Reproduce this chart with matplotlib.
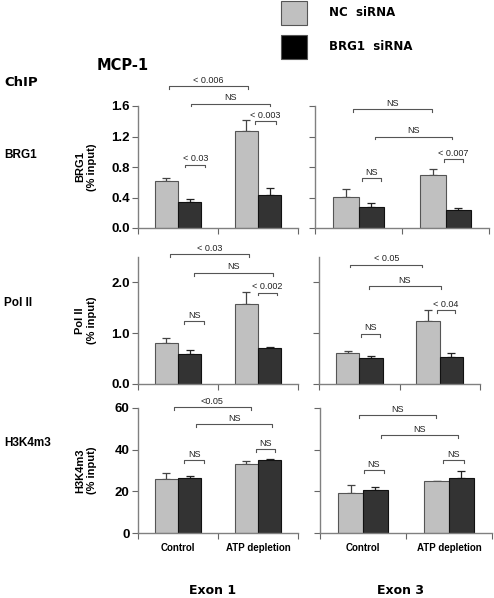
import matplotlib
matplotlib.use('Agg')
import matplotlib.pyplot as plt
from matplotlib.patches import Rectangle

# ---- data ----
groups = ['Control', 'ATP depletion']
series = ['NC  siRNA', 'BRG1  siRNA']

brg1_ex1_nc = [0.62, 1.27]
brg1_ex1_nc_err = [0.03, 0.15]
brg1_ex1_kd = [0.34, 0.43]
brg1_ex1_kd_err = [0.04, 0.10]
brg1_ex3_nc = [0.41, 0.69]
brg1_ex3_nc_err = [0.10, 0.08]
brg1_ex3_kd = [0.27, 0.23]
brg1_ex3_kd_err = [0.06, 0.03]

pol2_ex1_nc = [0.81, 1.58]
pol2_ex1_nc_err = [0.10, 0.23]
pol2_ex1_kd = [0.59, 0.70]
pol2_ex1_kd_err = [0.08, 0.03]
pol2_ex3_nc = [0.61, 1.24]
pol2_ex3_nc_err = [0.03, 0.22]
pol2_ex3_kd = [0.52, 0.54]
pol2_ex3_kd_err = [0.04, 0.07]

h3k4_ex1_nc = [25.9, 33.3]
h3k4_ex1_nc_err = [3.0, 1.1]
h3k4_ex1_kd = [26.2, 35.0]
h3k4_ex1_kd_err = [1.3, 0.7]
h3k4_ex3_nc = [19.4, 24.8]
h3k4_ex3_nc_err = [3.5, 0.3]
h3k4_ex3_kd = [20.5, 26.2]
h3k4_ex3_kd_err = [1.7, 3.5]

# significance brackets: (x from, x to, height, label)
brg1_ex1_sig = [(-0.11, 0.87, 1.86, '< 0.006'), (0.16, 1.15, 1.63, 'NS'),
                (0.96, 1.22, 1.40, '< 0.003'), (0.09, 0.34, 0.83, '< 0.03')]
brg1_ex3_sig = [(-0.06, 0.84, 1.56, 'NS'), (0.19, 1.08, 1.20, 'NS'),
                (0.98, 1.20, 0.905, '< 0.007'), (0.04, 0.26, 0.65, 'NS')]
pol2_ex1_sig = [(-0.10, 0.89, 2.55, '< 0.03'), (0.20, 1.19, 2.19, 'NS'),
                (1.00, 1.24, 1.80, '< 0.002'), (0.07, 0.33, 1.24, 'NS')]
pol2_ex3_sig = [(-0.11, 0.78, 2.35, '< 0.05'), (0.12, 1.01, 1.92, 'NS'),
                (0.96, 1.19, 1.46, '< 0.04'), (0.02, 0.26, 0.99, 'NS')]
h3k4_ex1_sig = [(-0.05, 0.91, 60.6, '<0.05'), (0.22, 1.18, 52.2, 'NS'),
                (0.97, 1.21, 40.3, 'NS'), (0.08, 0.32, 34.9, 'NS')]
h3k4_ex3_sig = [(-0.05, 0.85, 56.5, 'NS'), (0.21, 1.11, 46.9, 'NS'),
                (0.93, 1.17, 34.9, 'NS'), (0.01, 0.24, 30.2, 'NS')]

rows = [
    dict(name='BRG1', ylim=(0, 1.6), ticks=[0, 0.4, 0.8, 1.2, 1.6], fmt='{:.1f}',
         ex1=(brg1_ex1_nc, brg1_ex1_nc_err, brg1_ex1_kd, brg1_ex1_kd_err, brg1_ex1_sig),
         ex3=(brg1_ex3_nc, brg1_ex3_nc_err, brg1_ex3_kd, brg1_ex3_kd_err, brg1_ex3_sig),
         px=(106, 228), ex3_x=(315, 489), label_y=155),
    dict(name='Pol II', ylim=(0, 2.5), ticks=[0, 1, 2], fmt='{:.1f}',
         ex1=(pol2_ex1_nc, pol2_ex1_nc_err, pol2_ex1_kd, pol2_ex1_kd_err, pol2_ex1_sig),
         ex3=(pol2_ex3_nc, pol2_ex3_nc_err, pol2_ex3_kd, pol2_ex3_kd_err, pol2_ex3_sig),
         px=(257, 384), ex3_x=(319, 480), label_y=303),
    dict(name='H3K4m3', ylim=(0, 60), ticks=[0, 20, 40, 60], fmt='{:.0f}',
         ex1=(h3k4_ex1_nc, h3k4_ex1_nc_err, h3k4_ex1_kd, h3k4_ex1_kd_err, h3k4_ex1_sig),
         ex3=(h3k4_ex3_nc, h3k4_ex3_nc_err, h3k4_ex3_kd, h3k4_ex3_kd_err, h3k4_ex3_sig),
         px=(408, 533), ex3_x=(320, 492), label_y=443),
]

W, H = 494, 598
NC_COLOR = '#c0c0c0'
KD_COLOR = '#333333'
AX_COLOR = '#808080'
ARIAL = 'Liberation Sans'
VERDANA = 'DejaVu Sans'

fig = plt.figure(figsize=(W / 100, H / 100), dpi=100)


def px_axes(x0, x1, ytop, ybot):
    return fig.add_axes([x0 / W, 1 - ybot / H, (x1 - x0) / W, (ybot - ytop) / H])


def draw_panel(ax, nc, nc_err, kd, kd_err, sig, row, show_labels):
    x = range(len(groups))
    w = 0.29
    xs_nc = [i - w / 2 for i in x]
    xs_kd = [i + w / 2 for i in x]
    ax.bar(xs_nc, nc, width=w, color=NC_COLOR, edgecolor='#555555', linewidth=0.8, zorder=2)
    ax.bar(xs_kd, kd, width=w, color=KD_COLOR, edgecolor='#111111', linewidth=0.8, zorder=2)
    # only the upper half of each error bar is shown
    ax.errorbar(xs_nc, nc, yerr=[[0] * len(nc), nc_err], fmt='none', ecolor='#444444',
                elinewidth=0.9, capsize=3, capthick=0.9, zorder=1)
    ax.errorbar(xs_kd, kd, yerr=[[0] * len(kd), kd_err], fmt='none', ecolor='#222222',
                elinewidth=0.9, capsize=3, capthick=0.9, zorder=1)

    ax.set_xlim(-0.5, 1.5)
    ax.set_ylim(*row['ylim'])
    ax.set_yticks(row['ticks'])
    if show_labels:
        ax.set_yticklabels([row['fmt'].format(t) for t in row['ticks']],
                           fontfamily=ARIAL, fontweight='bold', fontsize=9.5)
    else:
        ax.set_yticklabels([])
    ax.set_xticks([-0.5, 0.5, 1.5])
    ax.set_xticklabels([])
    for s in ['top', 'right']:
        ax.spines[s].set_visible(False)
    for s in ['left', 'bottom']:
        ax.spines[s].set_color(AX_COLOR)
        ax.spines[s].set_linewidth(1.0)
    ax.tick_params(axis='both', length=4, width=0.8, color='#666666', pad=2)

    tick_h = 0.022 * row['ylim'][1]
    for x1, x2, y, label in sig:
        ax.plot([x1, x1, x2, x2], [y - tick_h, y, y, y - tick_h], color='#555555',
                lw=0.8, clip_on=False)
        ax.text((x1 + x2) / 2, y + 0.01 * row['ylim'][1], label, ha='center', va='bottom',
                fontsize=6.5, fontfamily=ARIAL, color='#222222', clip_on=False)


last = None
for row in rows:
    ytop, ybot = row['px']
    ax1 = px_axes(138, 298, ytop, ybot)
    draw_panel(ax1, *row['ex1'], row=row, show_labels=True)
    ax3 = px_axes(row['ex3_x'][0], row['ex3_x'][1], ytop, ybot)
    draw_panel(ax3, *row['ex3'], row=row, show_labels=False)
    last = (ax1, ax3)

    yc = 1 - (ytop + ybot) / 2 / H
    fig.text(86 / W, yc, row['name'] + '\n(% input)', rotation=90, ha='center', va='center',
             multialignment='center', fontsize=8, fontweight='bold', fontfamily=ARIAL,
             linespacing=1.2)
    fig.text(4 / W, 1 - row['label_y'] / H, row['name'], ha='left', va='center',
             fontsize=8.5, fontweight='bold', fontfamily=ARIAL)

# category labels under the bottom row
for ax in last:
    for i, g in enumerate(groups):
        ax.text(i, -0.08, g, transform=ax.get_xaxis_transform(), ha='center', va='top',
                fontsize=7, fontweight='bold', fontfamily=ARIAL)

# titles and legend
fig.text(97 / W, 1 - 65 / H, 'MCP-1', ha='left', va='center', fontsize=10.5,
         fontweight='bold', fontfamily=VERDANA)
fig.text(4 / W, 1 - 82 / H, 'ChIP', ha='left', va='center', fontsize=9.5,
         fontweight='bold', fontfamily=VERDANA)
fig.text(213 / W, 1 - 590 / H, 'Exon 1', ha='center', va='center', fontsize=9,
         fontweight='bold', fontfamily=VERDANA)
fig.text(400 / W, 1 - 590 / H, 'Exon 3', ha='center', va='center', fontsize=9,
         fontweight='bold', fontfamily=VERDANA)

for label, color, ytop in zip(series, [NC_COLOR, '#000000'], [1, 35]):
    fig.patches.append(Rectangle((281 / W, 1 - (ytop + 24) / H), 26 / W, 24 / H,
                                 transform=fig.transFigure, facecolor=color,
                                 edgecolor='#555555', linewidth=0.8))
    fig.text(329 / W, 1 - (ytop + 11) / H, label, ha='left', va='center', fontsize=8.5,
             fontweight='bold', fontfamily=VERDANA)

fig.savefig('out.png', dpi=100)
